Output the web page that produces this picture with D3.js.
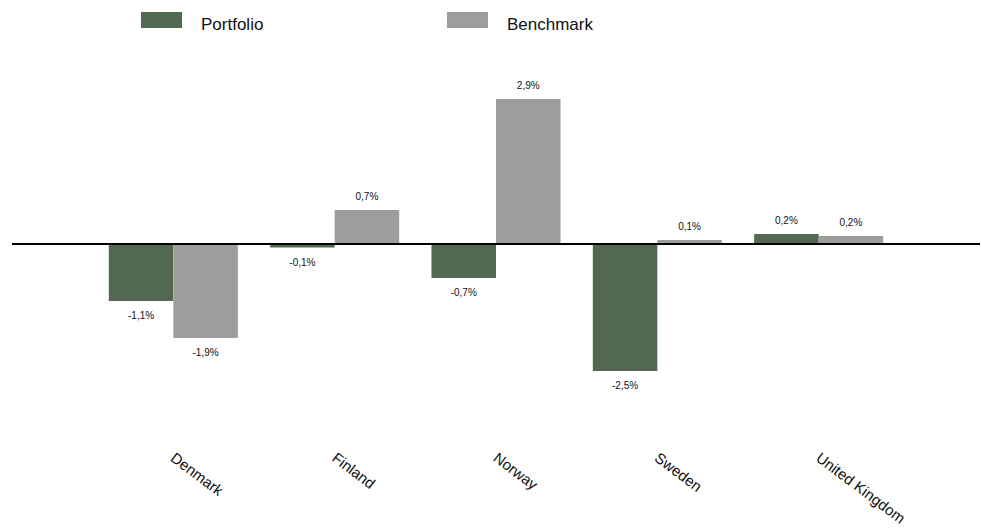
<!DOCTYPE html>
<html>
<head>
<meta charset="utf-8">
<script src="https://cdn.jsdelivr.net/npm/d3@7"></script>
<style>
  body { margin: 0; background: #fff; }
  text { font-family: "Liberation Sans", Arial, sans-serif; fill: #111; }
</style>
</head>
<body>
<div id="chart"></div>
<script>
// country returns, in percent
const countries = ["Denmark", "Finland", "Norway", "Sweden", "United Kingdom"];
const seriesNames = ["Portfolio", "Benchmark"];
const portfolio = [-1.14, -0.07, -0.68, -2.54, 0.2];
const benchmark = [-1.88, 0.68, 2.9, 0.08, 0.16];
const colors = ["#506950", "#9d9d9b"];

const width = 981;
const height = 528;

const rows = countries.map((c, i) => ({
  country: c,
  values: [
    { key: seriesNames[0], value: portfolio[i] },
    { key: seriesNames[1], value: benchmark[i] }
  ]
}));

const svg = d3.select("#chart")
  .append("svg")
    .attr("width", width)
    .attr("height", height);

const x0 = d3.scaleBand()
  .domain(countries)
  .range([12, 980])
  .paddingInner(0.2)
  .paddingOuter(0.6);

const x1 = d3.scaleBand()
  .domain(seriesNames)
  .range([0, x0.bandwidth()]);

const color = d3.scaleOrdinal()
  .domain(seriesNames)
  .range(colors);

const y = d3.scaleLinear()
  .domain([-3, 3])
  .range([394, 94]);

const fmt = v => d3.format(".1f")(v).replace(".", ",").replace("−", "-") + "%";

// bars
const groups = svg.selectAll("g.group")
  .data(rows)
  .enter()
  .append("g")
    .attr("class", "group")
    .attr("transform", d => `translate(${x0(d.country)},0)`);

groups.selectAll("rect")
  .data(d => d.values)
  .enter()
  .append("rect")
    .attr("x", d => x1(d.key))
    .attr("y", d => y(Math.max(0, d.value)))
    .attr("width", x1.bandwidth())
    .attr("height", d => Math.abs(y(d.value) - y(0)))
    .style("fill", d => color(d.key));

groups.selectAll("text.val")
  .data(d => d.values)
  .enter()
  .append("text")
    .attr("class", "val")
    .attr("x", d => x1(d.key) + x1.bandwidth() / 2)
    .attr("y", d => d.value >= 0 ? y(d.value) - 10 : y(d.value) + 18)
    .attr("text-anchor", "middle")
    .style("font-size", "10px")
    .text(d => fmt(d.value));

// zero line
svg.append("line")
  .attr("x1", 12)
  .attr("x2", 980)
  .attr("y1", y(0))
  .attr("y2", y(0))
  .attr("stroke", "#000")
  .attr("stroke-width", 2);

// category labels
svg.selectAll("text.cat")
  .data(countries)
  .enter()
  .append("text")
    .attr("class", "cat")
    .attr("transform", d => `translate(${x0(d) + x0.bandwidth() / 2 + 3},451) rotate(37)`)
    .attr("dy", "0.75em")
    .attr("text-anchor", "start")
    .style("font-size", "15px")
    .text(d => d);

// legend
const legendX = [141, 447];
const legend = svg.selectAll("g.legend")
  .data(seriesNames)
  .enter()
  .append("g")
    .attr("class", "legend")
    .attr("transform", (d, i) => `translate(${legendX[i]},12)`);

legend.append("rect")
  .attr("width", 41)
  .attr("height", 16)
  .style("fill", d => color(d));

legend.append("text")
  .attr("x", 60)
  .attr("y", 18)
  .style("font-size", "17px")
  .text(d => d);
</script>
</body>
</html>
